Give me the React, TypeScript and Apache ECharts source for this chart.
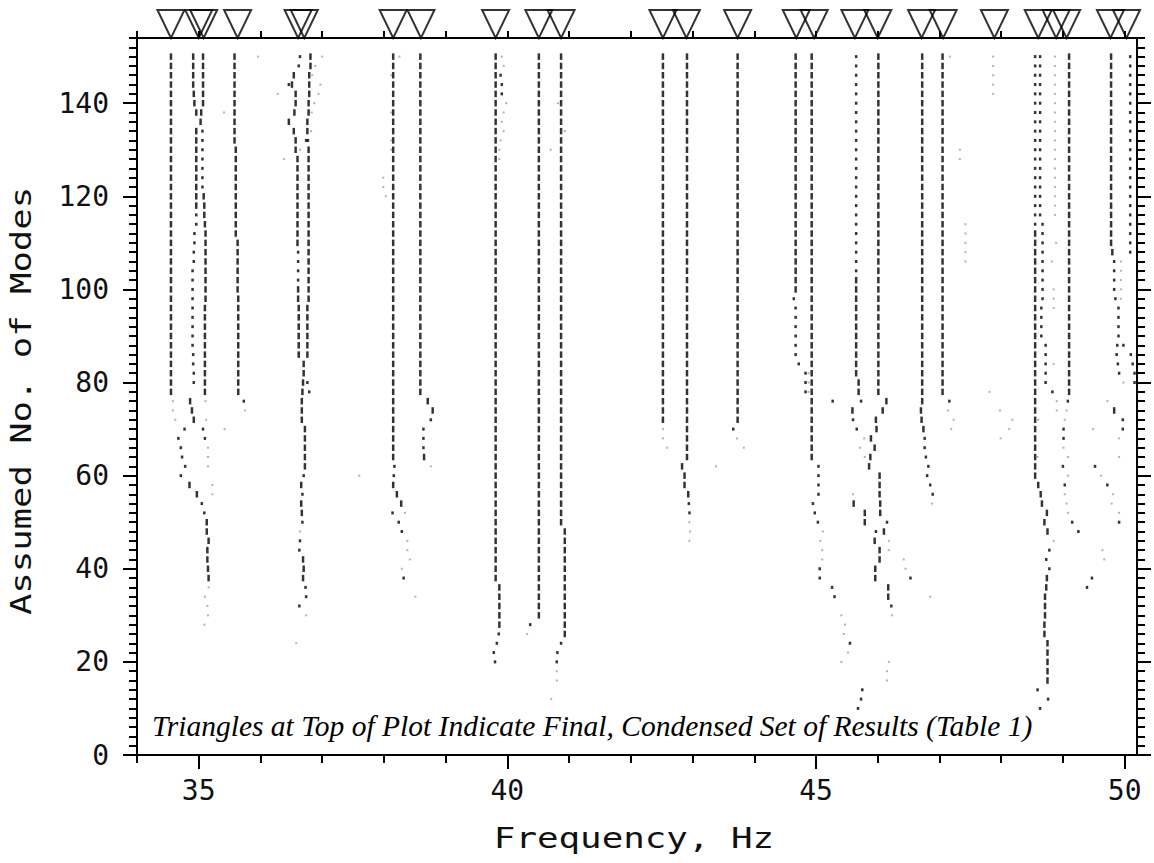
import React, { useEffect, useRef } from 'react';
import * as echarts from 'echarts';

// [frequency Hz, model order from, model order to (every 2), style]
// S = stable (dash), D = partly stable (dot), G = unstable (grey)
type Run = [number, number, number, string];

const group35: Run[] = [
  [34.55, 150, 78, 'S'], [34.58, 76, 74, 'G'], [34.62, 72, 72, 'G'], [34.77, 70, 70, 'D'],
  [34.67, 68, 68, 'D'], [34.71, 66, 66, 'D'], [34.73, 64, 64, 'D'], [34.78, 62, 62, 'D'],
  [34.71, 60, 60, 'D'], [34.85, 58, 58, 'S'], [34.97, 56, 56, 'S'], [35.05, 54, 54, 'D'],
  [35.09, 52, 52, 'D'], [35.13, 50, 48, 'S'], [35.16, 46, 46, 'S'], [35.14, 44, 42, 'S'],
  [35.15, 40, 40, 'S'], [35.16, 38, 38, 'S'], [35.16, 36, 36, 'G'], [35.10, 34, 34, 'G'],
  [35.14, 32, 32, 'G'], [35.15, 30, 30, 'G'], [35.09, 28, 28, 'G'],
  [34.91, 150, 144, 'S'], [34.92, 142, 142, 'S'], [34.93, 140, 140, 'S'], [34.96, 138, 138, 'S'],
  [35.03, 136, 136, 'S'], [34.96, 134, 118, 'S'], [34.96, 116, 114, 'D'], [34.93, 112, 110, 'D'],
  [34.92, 108, 106, 'D'], [34.90, 104, 88, 'D'], [34.91, 86, 84, 'D'], [34.92, 82, 80, 'D'],
  [34.86, 76, 76, 'S'], [34.89, 74, 74, 'S'], [34.92, 72, 72, 'S'], [35.07, 70, 70, 'D'],
  [35.10, 68, 68, 'D'], [35.15, 66, 62, 'G'], [35.22, 58, 56, 'G'],
  [35.07, 150, 140, 'S'], [35.04, 138, 138, 'S'], [35.06, 134, 122, 'D'], [35.08, 120, 120, 'S'],
  [35.09, 118, 116, 'S'], [35.10, 114, 114, 'S'], [35.11, 112, 98, 'S'], [35.10, 96, 78, 'S'],
  [35.11, 76, 76, 'G'], [35.12, 72, 72, 'G'],
  [35.58, 150, 132, 'S'], [35.60, 130, 112, 'S'], [35.63, 110, 100, 'S'], [35.64, 98, 78, 'S'],
  [35.73, 76, 76, 'D'], [35.75, 74, 74, 'G'], [35.96, 150, 150, 'G'], [35.41, 138, 138, 'G'],
  [35.42, 70, 70, 'G'],
];

const group36: Run[] = [
  [36.64, 150, 150, 'D'], [36.62, 148, 148, 'D'], [36.54, 146, 146, 'S'], [36.46, 144, 144, 'D'],
  [36.51, 144, 144, 'S'], [36.57, 142, 140, 'S'], [36.55, 138, 138, 'S'], [36.46, 136, 136, 'S'],
  [36.54, 134, 134, 'S'], [36.57, 132, 130, 'S'], [36.60, 128, 110, 'S'], [36.61, 108, 102, 'D'],
  [36.61, 100, 98, 'S'], [36.62, 96, 86, 'S'],
  [36.81, 150, 148, 'S'], [36.79, 146, 142, 'S'], [36.78, 140, 138, 'S'], [36.76, 136, 134, 'S'],
  [36.74, 132, 132, 'D'], [36.77, 132, 132, 'D'], [36.78, 130, 98, 'S'], [36.76, 96, 86, 'S'],
  [36.70, 84, 82, 'S'], [36.69, 80, 80, 'S'], [36.76, 80, 80, 'D'], [36.68, 78, 78, 'S'],
  [36.79, 78, 78, 'D'], [36.67, 76, 72, 'S'], [36.72, 70, 62, 'S'], [36.70, 60, 60, 'D'],
  [36.66, 58, 58, 'S'], [36.68, 56, 56, 'D'], [36.66, 54, 54, 'S'], [36.67, 52, 52, 'S'],
  [36.68, 50, 50, 'D'], [36.64, 48, 48, 'G'], [36.64, 46, 46, 'D'], [36.63, 44, 44, 'D'],
  [36.69, 42, 42, 'S'], [36.70, 40, 40, 'S'], [36.69, 38, 38, 'S'], [36.73, 36, 36, 'D'],
  [36.74, 34, 34, 'D'], [36.63, 32, 32, 'D'], [36.74, 30, 30, 'G'], [36.58, 24, 24, 'G'],
  [37.00, 150, 150, 'G'], [36.89, 148, 148, 'G'], [36.84, 146, 146, 'G'], [36.97, 144, 144, 'G'],
  [36.94, 142, 142, 'G'], [36.87, 140, 140, 'G'], [36.83, 138, 138, 'G'], [36.82, 134, 134, 'G'],
  [36.64, 130, 130, 'G'], [36.28, 142, 142, 'G'], [36.38, 128, 128, 'G'],
];

const group38: Run[] = [
  [38.15, 150, 64, 'S'], [38.17, 62, 62, 'D'], [38.16, 60, 60, 'D'], [38.15, 58, 58, 'S'],
  [38.21, 56, 56, 'S'], [38.28, 54, 54, 'S'], [38.14, 52, 52, 'D'], [38.34, 52, 52, 'G'],
  [38.24, 50, 50, 'D'], [38.29, 48, 48, 'D'], [38.38, 46, 44, 'G'], [38.42, 42, 42, 'G'],
  [38.29, 40, 40, 'G'], [38.32, 38, 38, 'D'], [38.51, 34, 34, 'G'],
  [38.25, 150, 150, 'G'], [38.12, 146, 146, 'G'], [38.12, 138, 138, 'G'], [38.12, 132, 130, 'G'],
  [37.99, 124, 122, 'G'], [38.03, 120, 120, 'G'], [37.60, 60, 60, 'G'],
  [38.59, 150, 78, 'S'], [38.71, 76, 76, 'S'], [38.79, 74, 74, 'S'], [38.76, 72, 72, 'D'],
  [38.64, 70, 66, 'D'], [38.65, 64, 64, 'S'], [38.76, 62, 62, 'G'],
];

const group40: Run[] = [
  [39.81, 150, 38, 'S'], [39.87, 36, 28, 'S'], [39.86, 26, 26, 'D'], [39.83, 24, 24, 'D'],
  [39.78, 22, 22, 'D'], [39.80, 20, 20, 'D'],
  [39.91, 150, 150, 'G'], [39.94, 148, 148, 'G'], [39.89, 146, 146, 'D'], [39.91, 144, 142, 'D'],
  [39.98, 140, 140, 'G'], [39.94, 138, 138, 'G'], [39.91, 136, 136, 'G'], [39.94, 134, 134, 'G'],
  [39.89, 132, 132, 'G'], [39.87, 130, 128, 'G'],
  [40.51, 150, 30, 'S'], [40.37, 28, 28, 'D'], [40.32, 26, 26, 'G'],
  [40.87, 150, 50, 'S'], [40.93, 48, 26, 'S'], [40.87, 24, 24, 'D'], [40.81, 22, 22, 'D'],
  [40.80, 20, 20, 'D'], [40.80, 18, 16, 'G'], [40.71, 12, 12, 'G'],
  [40.82, 140, 140, 'G'], [40.93, 134, 134, 'G'], [40.70, 130, 130, 'G'],
];

const group43: Run[] = [
  [42.52, 150, 72, 'S'], [42.52, 70, 68, 'G'], [42.59, 66, 66, 'G'],
  [42.91, 150, 64, 'S'], [42.83, 62, 62, 'S'], [42.87, 60, 58, 'S'], [42.93, 56, 56, 'S'],
  [42.94, 54, 54, 'D'], [42.95, 52, 52, 'D'], [42.95, 50, 50, 'G'], [42.96, 48, 48, 'G'],
  [42.95, 46, 46, 'G'],
  [43.73, 150, 72, 'S'], [43.66, 70, 70, 'D'], [43.72, 68, 68, 'G'], [43.83, 66, 66, 'G'],
  [43.38, 62, 62, 'G'],
  [44.67, 150, 100, 'S'], [44.64, 98, 98, 'D'], [44.67, 96, 86, 'D'], [44.72, 84, 84, 'D'],
  [44.83, 82, 78, 'D'], [44.88, 82, 78, 'G'],
  [44.93, 150, 64, 'S'], [45.04, 62, 56, 'D'], [44.95, 54, 54, 'D'], [44.98, 52, 52, 'D'],
  [45.03, 50, 50, 'D'], [45.11, 48, 48, 'G'], [45.07, 46, 46, 'G'], [45.10, 44, 42, 'G'],
  [45.06, 40, 38, 'D'], [45.26, 36, 36, 'D'], [45.30, 34, 34, 'D'], [45.41, 30, 30, 'G'],
  [45.47, 28, 28, 'G'], [45.45, 26, 26, 'G'], [45.55, 24, 24, 'D'], [45.52, 22, 22, 'G'],
  [45.41, 20, 20, 'G'], [45.27, 76, 76, 'D'],
];

const group46: Run[] = [
  [45.65, 150, 104, 'D'], [45.65, 102, 82, 'S'], [45.69, 80, 78, 'S'], [45.73, 76, 76, 'D'],
  [45.59, 74, 74, 'S'], [45.60, 72, 72, 'D'], [45.66, 70, 70, 'D'], [45.78, 68, 68, 'G'],
  [45.71, 66, 66, 'G'], [45.79, 64, 64, 'G'], [45.60, 56, 56, 'G'], [45.61, 54, 54, 'S'],
  [45.79, 52, 50, 'S'], [45.97, 48, 48, 'D'], [45.95, 46, 46, 'S'], [46.03, 44, 42, 'S'],
  [45.96, 40, 38, 'S'],
  [46.01, 150, 78, 'S'], [46.14, 76, 76, 'S'], [46.08, 74, 74, 'S'], [45.97, 72, 72, 'S'],
  [45.98, 70, 70, 'S'], [45.89, 68, 68, 'S'], [45.95, 66, 66, 'S'], [45.88, 64, 64, 'S'],
  [45.86, 62, 62, 'S'], [46.03, 60, 56, 'S'], [46.04, 54, 52, 'S'], [46.15, 50, 50, 'D'],
  [46.10, 48, 48, 'S'], [46.17, 36, 34, 'S'], [46.22, 32, 32, 'D'], [46.23, 30, 30, 'G'],
  [46.18, 20, 20, 'G'], [46.15, 18, 16, 'G'], [45.75, 14, 14, 'D'], [45.73, 12, 12, 'D'],
  [45.68, 10, 10, 'D'], [46.18, 46, 44, 'G'], [46.42, 42, 42, 'G'], [46.45, 40, 40, 'G'],
  [46.53, 38, 38, 'D'], [46.85, 34, 34, 'G'],
];

const group47: Run[] = [
  [46.72, 150, 76, 'S'], [46.70, 74, 74, 'S'], [46.71, 72, 72, 'S'], [46.74, 70, 70, 'S'],
  [46.76, 68, 66, 'D'], [46.78, 64, 64, 'D'], [46.82, 62, 62, 'D'], [46.80, 60, 60, 'D'],
  [46.85, 58, 58, 'D'], [46.89, 56, 56, 'D'], [46.88, 54, 54, 'G'],
  [47.05, 150, 78, 'S'], [47.16, 76, 76, 'D'], [47.14, 74, 74, 'G'], [47.23, 72, 72, 'G'],
  [47.19, 70, 70, 'G'], [47.17, 150, 150, 'G'], [47.33, 130, 128, 'G'], [47.42, 114, 106, 'G'],
  [47.87, 150, 142, 'G'], [47.81, 78, 78, 'G'], [47.98, 74, 74, 'G'], [48.18, 72, 72, 'G'],
  [48.13, 70, 70, 'G'], [47.99, 68, 68, 'G'],
];

const group49: Run[] = [
  [48.55, 150, 114, 'D'], [48.55, 112, 60, 'S'], [48.60, 58, 58, 'S'], [48.64, 56, 56, 'S'],
  [48.66, 54, 54, 'S'], [48.74, 52, 52, 'S'], [48.70, 50, 50, 'S'], [48.75, 48, 48, 'S'],
  [48.85, 46, 46, 'G'], [48.78, 44, 44, 'D'], [48.73, 42, 42, 'D'], [48.78, 40, 40, 'D'],
  [48.74, 38, 38, 'S'], [48.73, 36, 36, 'S'], [48.71, 34, 30, 'S'], [48.70, 28, 26, 'S'],
  [48.75, 24, 16, 'S'], [48.59, 14, 14, 'D'], [48.76, 12, 12, 'D'], [48.63, 10, 10, 'D'],
  [48.63, 150, 116, 'D'], [48.67, 114, 98, 'D'], [48.65, 96, 90, 'D'], [48.72, 88, 80, 'D'],
  [48.83, 78, 78, 'D'], [48.90, 76, 74, 'G'], [48.60, 72, 72, 'G'], [48.59, 64, 64, 'G'],
  [48.87, 150, 116, 'G'], [48.89, 110, 110, 'G'], [48.82, 106, 106, 'G'], [48.85, 100, 96, 'G'],
  [48.85, 84, 84, 'G'],
  [49.10, 150, 78, 'S'], [49.08, 76, 76, 'D'], [49.06, 74, 74, 'G'], [49.03, 72, 72, 'G'],
  [49.01, 70, 68, 'D'], [49.01, 66, 66, 'G'], [49.08, 64, 64, 'G'], [49.00, 62, 62, 'D'],
  [49.08, 60, 60, 'G'], [49.03, 58, 58, 'D'], [49.03, 56, 56, 'G'], [49.06, 54, 54, 'G'],
  [49.08, 52, 52, 'G'], [49.15, 50, 50, 'D'], [49.25, 48, 48, 'D'],
  [49.49, 70, 70, 'G'], [49.52, 62, 62, 'D'], [49.62, 60, 60, 'G'], [49.72, 58, 58, 'D'],
  [49.81, 56, 56, 'G'], [49.79, 54, 54, 'G'], [49.91, 52, 52, 'G'], [49.91, 50, 50, 'D'],
  [49.64, 44, 44, 'G'], [49.67, 42, 42, 'G'], [49.47, 38, 38, 'D'], [49.39, 36, 36, 'D'],
];

const group50: Run[] = [
  [49.78, 150, 110, 'S'], [49.80, 108, 108, 'S'], [49.83, 106, 100, 'D'], [49.85, 98, 98, 'D'],
  [49.90, 96, 90, 'D'], [49.88, 88, 88, 'D'], [49.98, 88, 88, 'D'], [49.87, 86, 86, 'D'],
  [49.89, 84, 84, 'D'], [49.91, 82, 82, 'D'], [49.98, 80, 80, 'G'], [49.72, 76, 76, 'G'],
  [49.83, 74, 74, 'S'], [49.97, 72, 70, 'D'], [49.91, 68, 68, 'G'], [49.91, 64, 64, 'G'],
  [49.94, 106, 98, 'G'],
  [50.09, 150, 108, 'D'], [50.10, 86, 86, 'D'], [50.13, 84, 84, 'D'], [50.16, 82, 80, 'D'],
];

// Final condensed set of modes (triangles at top)
const finalModes = [
  34.55, 35.0, 35.08, 35.63, 36.61, 36.71, 38.15, 38.6, 39.81, 40.51, 40.87, 42.52, 42.9,
  43.73, 44.68, 44.97, 45.63, 46.0, 46.71, 47.06, 47.89, 48.6, 48.89, 49.06, 49.77, 50.03,
];

const xMajorTicks = [35, 40, 45, 50];
const xMinorTicks = [34, 35, 36, 37, 38, 39, 40, 41, 42, 43, 44, 45, 46, 47, 48, 49, 50];
const yMajorTicks = [0, 20, 40, 60, 80, 100, 120, 140];
const Y_MAX = 154;
const X_MIN = 34;
const X_MAX = 50.2;

const allRuns: Run[] = [
  ...group35, ...group36, ...group38, ...group40, ...group43, ...group46, ...group47, ...group49, ...group50,
];

function pointsFor(style: string): number[][] {
  const out: number[][] = [];
  for (const r of allRuns) {
    if (r[3] !== style) continue;
    for (let m = r[1]; m >= r[2]; m -= 2) out.push([r[0], m]);
  }
  return out;
}

const FONT = 'DejaVu Sans Mono';

export default function App() {
  const ref = useRef<HTMLDivElement>(null);
  useEffect(() => {
    if (!ref.current) return;
    const chart = echarts.init(ref.current, null, { renderer: 'svg' });
    const yMinor: number[] = [];
    for (let v = 0; v <= Y_MAX; v += 2) yMinor.push(v);
    const line = { color: '#000', width: 2 };
    const baseX = { type: 'value', min: X_MIN, max: X_MAX, splitLine: { show: false } };
    const baseY = { type: 'value', min: 0, max: Y_MAX, splitLine: { show: false } };
    chart.setOption({
      animation: false,
      backgroundColor: '#fff',
      grid: { left: 137, right: 17, top: 38, bottom: 108, containLabel: false },
      xAxis: [
        {
          ...baseX, position: 'bottom',
          axisLine: { show: true, onZero: false, lineStyle: line },
          axisTick: { show: true, customValues: xMajorTicks, length: 14, lineStyle: line },
          axisLabel: { show: true, customValues: xMajorTicks, margin: 21, fontSize: 28, fontFamily: FONT, color: '#111' },
        },
        {
          ...baseX, position: 'bottom',
          axisLine: { show: false, onZero: false },
          axisTick: { show: true, customValues: xMinorTicks, length: 8, lineStyle: line },
          axisLabel: { show: false },
        },
        {
          ...baseX, position: 'top',
          axisLine: { show: true, onZero: false, lineStyle: line },
          axisTick: { show: true, customValues: xMinorTicks, length: 7, lineStyle: line },
          axisLabel: { show: false },
        },
      ],
      yAxis: [
        {
          ...baseY, position: 'left',
          axisLine: { show: true, onZero: false, lineStyle: line },
          axisTick: { show: true, customValues: yMajorTicks, length: 14, lineStyle: line },
          axisLabel: { show: true, customValues: yMajorTicks, margin: 28, fontSize: 28, fontFamily: FONT, color: '#111' },
        },
        {
          ...baseY, position: 'left',
          axisLine: { show: false, onZero: false },
          axisTick: { show: true, customValues: yMinor, length: 8, lineStyle: line },
          axisLabel: { show: false },
        },
        {
          ...baseY, position: 'right',
          axisLine: { show: true, onZero: false, lineStyle: line },
          axisTick: { show: true, customValues: yMajorTicks, length: 14, lineStyle: line },
          axisLabel: { show: false },
        },
        {
          ...baseY, position: 'right',
          axisLine: { show: false, onZero: false },
          axisTick: { show: true, customValues: yMinor, length: 8, lineStyle: line },
          axisLabel: { show: false },
        },
      ],
      series: [
        {
          type: 'scatter', name: 'unstable', symbol: 'rect', symbolSize: [2, 2],
          itemStyle: { color: '#a0a0a0' }, data: pointsFor('G'), silent: true,
        },
        {
          type: 'scatter', name: 'partial', symbol: 'rect', symbolSize: [2.5, 3],
          itemStyle: { color: '#000' }, data: pointsFor('D'), silent: true,
        },
        {
          type: 'scatter', name: 'stable', symbol: 'rect', symbolSize: [2.5, 6.5],
          itemStyle: { color: '#000' }, data: pointsFor('S'), silent: true,
        },
        {
          type: 'scatter', name: 'final', symbol: 'triangle', symbolSize: [27, 28],
          symbolRotate: 180, symbolOffset: [0, -14], clip: false, silent: true,
          itemStyle: { color: 'rgba(0,0,0,0)', borderColor: '#000', borderWidth: 2 },
          data: finalModes.map((f) => [f, Y_MAX]), z: 10,
        },
      ],
      graphic: [
        {
          type: 'text', x: 21, y: 401, rotation: Math.PI / 2, scaleX: 1.27,
          style: { text: 'Assumed No. of Modes', fontSize: 28, fontFamily: FONT, fill: '#111', align: 'center', verticalAlign: 'middle' },
        },
        {
          type: 'text', x: 634, y: 838, scaleX: 1.28,
          style: { text: 'Frequency, Hz', fontSize: 28, fontFamily: FONT, fill: '#111', align: 'center', verticalAlign: 'middle' },
        },
        {
          type: 'text', x: 152, y: 726,
          style: {
            text: 'Triangles at Top of Plot Indicate Final, Condensed Set of Results (Table 1)',
            fontSize: 29.5, fontStyle: 'italic', fontFamily: 'Liberation Serif', fill: '#000',
            align: 'left', verticalAlign: 'middle',
          },
        },
      ],
    });
    return () => chart.dispose();
  }, []);
  return (
    <div
      ref={ref}
      style={{ position: 'fixed', left: 0, top: 0, width: 1154, height: 863, background: '#fff' }}
    />
  );
}
